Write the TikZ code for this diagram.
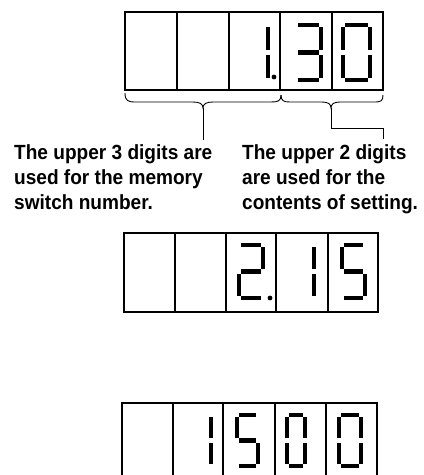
\documentclass[tikz,border=0pt]{standalone}
\usepackage{fontspec}
\newfontfamily\labfont[FakeStretch=0.93]{Liberation Sans}
\tikzset{
  cellbox/.style={draw=black, line width=1.2pt},
  segl/.style={line width=4.4pt, line cap=butt, black},
  conn/.style={draw=black, line width=0.9pt},
  labtext/.style={font=\labfont\bfseries\fontsize{20.5}{25}\selectfont, align=left, inner sep=0pt, anchor=north west},
}
\def\G{2.3}
\newcommand\sega{\draw[segl] (\G,0) -- ({\W-\G},0);}
\newcommand\segb{\draw[segl] (\W,\G) -- (\W,{\H/2-\G});}
\newcommand\segc{\draw[segl] (\W,{\H/2+\G}) -- (\W,{\H-\G});}
\newcommand\segd{\draw[segl] (\G,\H) -- ({\W-\G},\H);}
\newcommand\sege{\draw[segl] (0,{\H/2+\G}) -- (0,{\H-\G});}
\newcommand\segf{\draw[segl] (0,\G) -- (0,{\H/2-\G});}
\newcommand\segg{\draw[segl] (\G,{\H/2}) -- ({\W-\G},{\H/2});}
% x y w h segments
\newcommand\sdig[5]{%
  \begin{scope}[shift={(#1,#2)}]
    \def\W{#3}\def\H{#4}%
    \foreach \s in {#5}{\csname seg\s\endcsname}
  \end{scope}}
\begin{document}
\begin{tikzpicture}[x=1pt,y=-1pt]
\useasboundingbox (0,0) rectangle (424,475);
\clip (0,0) rectangle (424,475);
% ---- top display
\foreach \a/\b in {125/177,177/229,229/280,280/332,332/383}
  \draw[cellbox] (\a,12) rectangle (\b,90);
\sdig{243}{25}{25}{55}{b,c}
\fill (274,77) circle (2.4);
\sdig{296}{25}{25}{55}{a,b,c,d,g}
\sdig{343}{25}{27}{55}{a,b,c,d,e,f}
% ---- braces
\coordinate (ltip) at (203,108);
\coordinate (rtip) at (331,108);
\draw[conn] (125,93) .. controls (125,101) and (128,102) .. (136,102) -- (193,102)
  .. controls (200,102) and (203,104) .. (ltip)
  .. controls (203,104) and (206,102) .. (213,102) -- (271,102)
  .. controls (278,102) and (281,101) .. (281,95);
\draw[conn] (281,95) .. controls (281,101) and (284,102) .. (290,102) -- (322,102)
  .. controls (328,102) and (331,104) .. (rtip)
  .. controls (331,104) and (334,102) .. (340,102) -- (374,102)
  .. controls (381,102) and (383,101) .. (383,95);
% ---- labels
\node[labtext] (lab1) at (14,144) {The upper 3 digits are\\used for the memory\\switch number.};
\node[labtext] (lab2) at (242,144) {The upper 2 digits\\are used for the\\contents of setting.};
\coordinate (lend) at (203,140);
\coordinate (rbend) at (383,128);
\coordinate (rend) at (383,139);
\draw[conn] (ltip) -- (lend);
\draw[conn] (rtip) |- (rbend) -- (rend);
% ---- middle display
\foreach \a/\b in {124/175,175/226,226/276,276/328,328/378}
  \draw[cellbox] (\a,233) rectangle (\b,312);
\sdig{239}{245}{24}{53}{a,b,g,e,d}
\fill (270,298) circle (2.4);
\sdig{290}{245}{24}{53}{b,c}
\sdig{342}{245}{23}{53}{a,f,g,c,d}
% ---- bottom display
\foreach \a/\b in {122/173,173/223,223/275,275/326,326/377}
  \draw[cellbox] (\a,485) -- (\a,403) -- (\b,403) -- (\b,485);
\sdig{188}{415}{23}{51}{b,c}
\sdig{237}{415}{21}{51}{a,f,g,c,d}
\sdig{287}{415}{18}{51}{a,b,c,d,e,f}
\sdig{339}{415}{22}{51}{a,b,c,d,e,f}
\end{tikzpicture}
\end{document}
